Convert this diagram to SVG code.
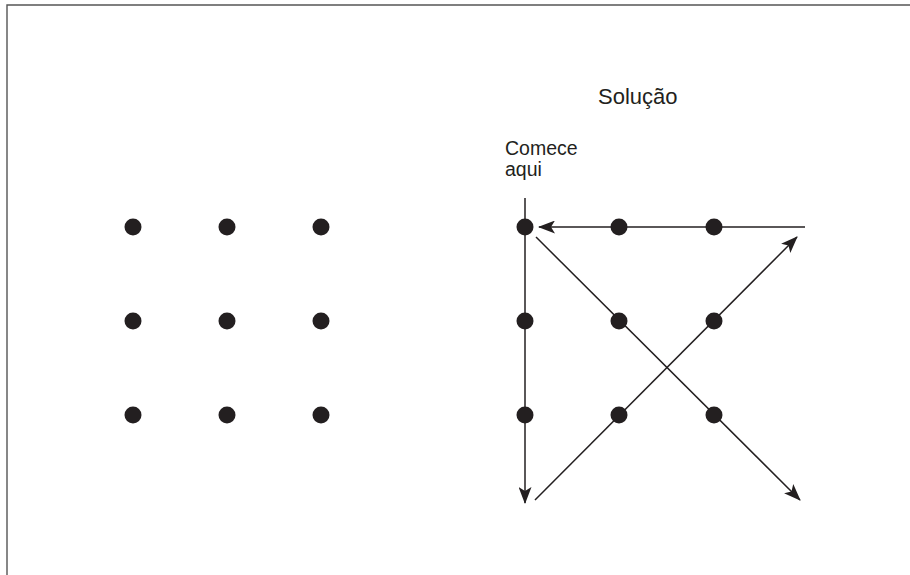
<svg xmlns="http://www.w3.org/2000/svg" width="910" height="575" viewBox="0 0 910 575">
  <style>
    .dot { fill: #231f20; }
    .line { stroke: #231f20; stroke-width: 1.5; fill: none; }
    .frame { stroke: #555; stroke-width: 1.4; fill: none; }
    .label { font-family: "Liberation Sans", Arial, sans-serif; fill: #231f20; }
  </style>
  <defs>
    <marker id="arrow" viewBox="0 0 17 13" refX="16" refY="6.5" markerWidth="17" markerHeight="13" markerUnits="userSpaceOnUse" orient="auto">
      <path d="M0,0 L17,6.5 L0,13 L4,6.5 Z" fill="#231f20"/>
    </marker>
  </defs>

  <rect width="910" height="575" fill="#fff"/>
  <path class="frame" d="M7,575 V5 H910"/>

  <!-- puzzle grid -->
  <g id="grid-left">
    <circle class="dot" cx="133" cy="227" r="8.5"/>
    <circle class="dot" cx="227" cy="227" r="8.5"/>
    <circle class="dot" cx="321" cy="227" r="8.5"/>
    <circle class="dot" cx="133" cy="321" r="8.5"/>
    <circle class="dot" cx="227" cy="321" r="8.5"/>
    <circle class="dot" cx="321" cy="321" r="8.5"/>
    <circle class="dot" cx="133" cy="415" r="8.5"/>
    <circle class="dot" cx="227" cy="415" r="8.5"/>
    <circle class="dot" cx="321" cy="415" r="8.5"/>
  </g>

  <text id="title" class="label" x="598" y="104" font-size="22">Solução</text>
  <g id="start-label">
    <text class="label" x="505" y="155" font-size="19.5">Comece</text>
    <text class="label" x="505" y="176" font-size="19.5">aqui</text>
  </g>

  <!-- solution path: four strokes -->
  <g id="connectors">
    <line class="line" x1="525" y1="198" x2="525" y2="503" marker-end="url(#arrow)"/>
    <line class="line" x1="535" y1="500" x2="797" y2="237" marker-end="url(#arrow)"/>
    <line class="line" x1="805" y1="227" x2="539" y2="227" marker-end="url(#arrow)"/>
    <line class="line" x1="536" y1="237" x2="800" y2="500" marker-end="url(#arrow)"/>
  </g>

  <g id="grid-right">
    <circle class="dot" cx="525" cy="227" r="8.5"/>
    <circle class="dot" cx="619" cy="227" r="8.5"/>
    <circle class="dot" cx="714" cy="227" r="8.5"/>
    <circle class="dot" cx="525" cy="321" r="8.5"/>
    <circle class="dot" cx="619" cy="321" r="8.5"/>
    <circle class="dot" cx="714" cy="321" r="8.5"/>
    <circle class="dot" cx="525" cy="415" r="8.5"/>
    <circle class="dot" cx="619" cy="415" r="8.5"/>
    <circle class="dot" cx="714" cy="415" r="8.5"/>
  </g>
</svg>
